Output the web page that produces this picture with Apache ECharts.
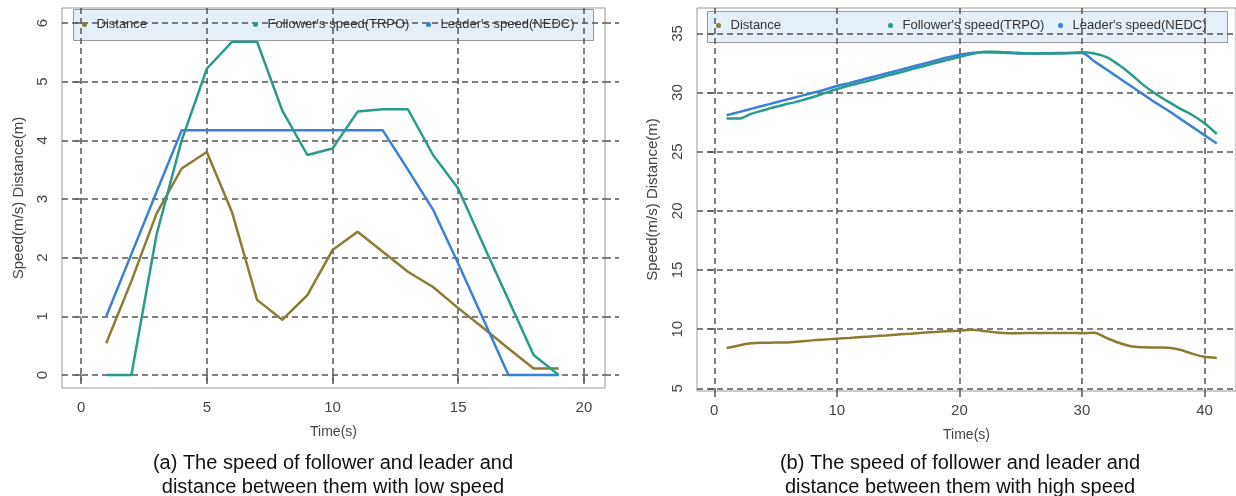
<!DOCTYPE html>
<html>
<head>
<meta charset="utf-8">
<title>Follower and leader speed</title>
<script src="https://cdn.jsdelivr.net/npm/echarts@6/dist/echarts.min.js"></script>
<style>
html, body { margin: 0; padding: 0; background: #fff; }
#chart { width: 1236px; height: 496px; }
</style>
</head>
<body>
<div id="chart"></div>
<script>
// (a) low speed run
const timeA = [1, 2, 3, 4, 5, 6, 7, 8, 9, 10, 11, 12, 13, 14, 15, 16, 17, 18, 19]
const distanceA = [0.54, 1.6, 2.75, 3.52, 3.8, 2.78, 1.28, 0.94, 1.36, 2.13, 2.44, 2.1, 1.76, 1.5, 1.14, 0.8, 0.45, 0.11, 0.11]
const followerA = [0, 0, 2.39, 4.0, 5.22, 5.68, 5.68, 4.51, 3.75, 3.86, 4.49, 4.53, 4.53, 3.75, 3.18, 2.22, 1.28, 0.34, 0]
const leaderA = [1.0, 2.06, 3.12, 4.17, 4.17, 4.17, 4.17, 4.17, 4.17, 4.17, 4.17, 4.17, 3.5, 2.82, 1.9, 0.95, 0, 0, 0]
const xTicksA = [0, 5, 10, 15, 20]
const yTicksA = [0, 1, 2, 3, 4, 5, 6]

// (b) high speed run
const timeB = [1, 2, 3, 4, 5, 6, 7, 8, 9, 10, 11, 12, 13, 14, 15, 16, 17, 18, 19, 20,
  21, 22, 23, 24, 25, 26, 27, 28, 29, 30, 31, 32, 33, 34, 35, 36, 37, 38, 39, 40, 41]
const distanceB = [8.41, 8.62, 8.8, 8.85, 8.86, 8.88, 8.95, 9.05, 9.12, 9.19, 9.25, 9.33, 9.4, 9.47, 9.55, 9.62, 9.7, 9.76, 9.82, 9.87,
  9.94, 9.85, 9.72, 9.66, 9.66, 9.67, 9.68, 9.68, 9.67, 9.66, 9.7, 9.25, 8.85, 8.55, 8.47, 8.45, 8.42, 8.25, 7.92, 7.66, 7.57]
const followerB = [27.8, 27.8, 28.2, 28.5, 28.8, 29.05, 29.3, 29.6, 29.95, 30.3, 30.6, 30.85, 31.1, 31.4, 31.65, 31.95, 32.2, 32.5, 32.75, 33.0,
  33.25, 33.45, 33.45, 33.4, 33.35, 33.3, 33.3, 33.3, 33.35, 33.4, 33.3, 33.0, 32.35, 31.55, 30.65, 29.9, 29.25, 28.65, 28.1, 27.4, 26.5]
const leaderB = [28.08, 28.35, 28.62, 28.89, 29.16, 29.43, 29.7, 29.97, 30.24, 30.55, 30.8, 31.07, 31.34, 31.61, 31.88, 32.15, 32.42, 32.69, 32.96, 33.2,
  33.35, 33.4, 33.38, 33.35, 33.3, 33.3, 33.32, 33.35, 33.35, 33.35, 32.65, 31.95, 31.25, 30.55, 29.85, 29.15, 28.5, 27.8, 27.1, 26.4, 25.7]
const xTicksB = [0, 10, 20, 30, 40]
const yTicksB = [5, 10, 15, 20, 25, 30, 35]

const names = ['Distance', "Follower's speed(TRPO)", "Leader's speed(NEDC)"]
const colors = ['#8c7a35', '#2a9a8b', '#3b7fd6']
const font = 'Liberation Sans, Arial, sans-serif'
const dash = { color: '#555', type: [6, 4], width: 1.5 }

const pairs = (xs, ys) => xs.map((x, i) => [x, ys[i]])

function xAxis (gridIndex, min, max, ticks) {
  return {
    gridIndex: gridIndex,
    type: 'value',
    min: min,
    max: max,
    name: 'Time(s)',
    nameLocation: 'middle',
    nameGap: 37,
    nameTextStyle: { fontSize: 14, color: '#444', fontFamily: font },
    axisLine: { show: false },
    axisTick: { show: true, length: 8, customValues: ticks, lineStyle: dash },
    axisLabel: { customValues: ticks, margin: 12, fontSize: 15, color: '#444', fontFamily: font },
    splitLine: { show: true, lineStyle: dash }
  }
}

function yAxis (gridIndex, min, max, ticks, gap) {
  return {
    gridIndex: gridIndex,
    type: 'value',
    min: min,
    max: max,
    name: 'Speed(m/s) Distance(m)',
    nameLocation: 'middle',
    nameRotate: 90,
    nameGap: gap,
    nameTextStyle: { fontSize: 15, color: '#444', fontFamily: font },
    axisLine: { show: false },
    axisTick: { show: true, length: 8, customValues: ticks, lineStyle: dash },
    axisLabel: { customValues: ticks, rotate: 90, margin: 12, fontSize: 15, color: '#444', fontFamily: font },
    splitLine: { show: true, lineStyle: dash }
  }
}

function line (name, color, xIndex, yIndex, data, smooth) {
  return {
    name: name,
    type: 'line',
    xAxisIndex: xIndex,
    yAxisIndex: yIndex,
    data: data,
    smooth: smooth,
    symbol: 'none',
    color: color,
    lineStyle: { width: 2.5, color: color }
  }
}

function legend (name, left, top) {
  return {
    data: [name],
    left: left,
    top: top,
    padding: 0,
    icon: 'circle',
    itemWidth: 14,
    itemHeight: 5,
    selectedMode: false,
    textStyle: { fontSize: 13, color: '#333', fontFamily: font }
  }
}

function legendBox (x, y, w, h) {
  return {
    type: 'rect',
    z: -1,
    shape: { x: x, y: y, width: w, height: h },
    style: { fill: '#e4eff8', stroke: '#999', lineWidth: 1 }
  }
}

function caption (x, text) {
  return {
    type: 'text',
    x: x,
    y: 451,
    style: { text: text, fontSize: 20, lineHeight: 24, textAlign: 'center', fill: '#111', fontFamily: font }
  }
}

const chart = echarts.init(document.getElementById('chart'))
chart.setOption({
  animation: false,
  grid: [
    { left: 62, top: 8, width: 543, height: 380, show: true, borderColor: '#999', borderWidth: 1 },
    { left: 697, top: 8, width: 541, height: 383, show: true, borderColor: '#999', borderWidth: 1 }
  ],
  xAxis: [
    xAxis(0, -0.76, 20.84, xTicksA),
    xAxis(1, -1.41, 42.57, xTicksB)
  ],
  yAxis: [
    yAxis(0, -0.222, 6.256, yTicksA, 36),
    yAxis(1, 4.77, 37.15, yTicksB, 37),
    // dashed stubs poking out on the right of panel (a)
    {
      gridIndex: 0,
      type: 'value',
      position: 'right',
      min: -0.222,
      max: 6.256,
      axisLine: { show: false },
      axisTick: { show: true, length: 14, customValues: yTicksA, lineStyle: dash },
      axisLabel: { show: false },
      splitLine: { show: false }
    }
  ],
  legend: [
    legend(names[0], 82, 18),
    legend(names[1], 253, 18),
    legend(names[2], 426, 18),
    legend(names[0], 716, 19),
    legend(names[1], 888, 19),
    legend(names[2], 1058, 19)
  ],
  graphic: [
    legendBox(73.5, 9.5, 520, 31),
    legendBox(707.5, 11.5, 520, 31),
    caption(333, '(a) The speed of follower and leader and\ndistance between them with low speed'),
    caption(960, '(b) The speed of follower and leader and\ndistance between them with high speed')
  ],
  series: [
    line(names[0], colors[0], 0, 0, pairs(timeA, distanceA), false),
    line(names[2], colors[2], 0, 0, pairs(timeA, leaderA), false),
    line(names[1], colors[1], 0, 0, pairs(timeA, followerA), false),
    line(names[0], colors[0], 1, 1, pairs(timeB, distanceB), 0.3),
    line(names[2], colors[2], 1, 1, pairs(timeB, leaderB), 0.3),
    line(names[1], colors[1], 1, 1, pairs(timeB, followerB), 0.3)
  ]
})
</script>
</body>
</html>
